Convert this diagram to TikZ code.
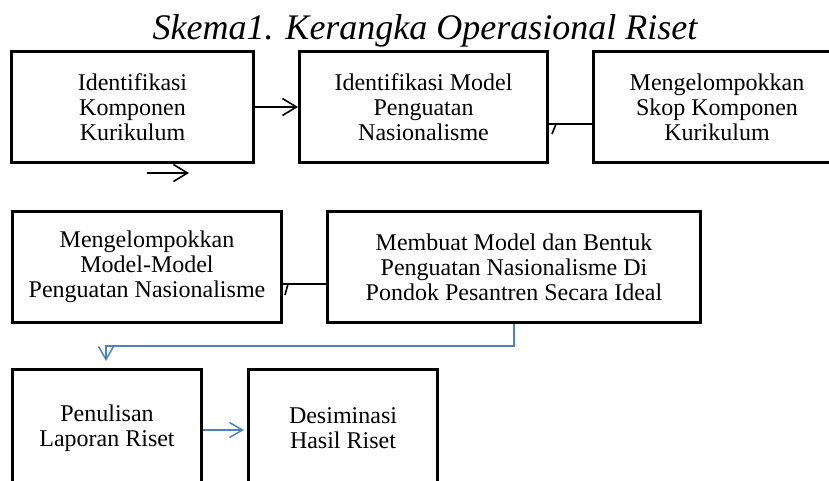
\documentclass[tikz,border=0pt]{standalone}
\usepackage{fontspec}
\setmainfont{Liberation Serif}
\usetikzlibrary{arrows.meta}
\definecolor{garisbiru}{RGB}{79,129,189}
\begin{document}
\begin{tikzpicture}[x=1pt,y=-1pt,
    kotak/.style={draw,line width=3pt,align=center,inner sep=0pt,
      minimum height=111pt,font=\fontsize{24}{25}\selectfont},
    panah/.style={line width=1.6pt,-{Straight Barb[length=14pt,width=17pt]}},
    garis/.style={line width=1.6pt},
    panahbiru/.style={garisbiru,line width=1.5pt,-{Straight Barb[length=13pt,width=15pt]}}]
      \useasboundingbox (0,0) rectangle (829,481);
      \node (judul) at (425,31) {\fontsize{36}{37}\selectfont\itshape Skema1. Kerangka Operasional Riset};
      % baris pertama
      \node[kotak,minimum width=242pt] (identkomp) at (132.5,107) {Identifikasi\\Komponen\\Kurikulum};
      \node[kotak,minimum width=248pt] (identmodel) at (423.5,107) {Identifikasi Model\\Penguatan\\Nasionalisme};
      \node[kotak,minimum width=248pt] (skopkomp) at (717,107) {Mengelompokkan\\Skop Komponen\\Kurikulum};
      % baris kedua
      \node[kotak,minimum width=269pt] (modelmodel) at (147,267) {Mengelompokkan\\Model-Model\\Penguatan Nasionalisme};
      \node[kotak,minimum width=373pt] (bentukideal) at (514,267) {Membuat Model dan Bentuk\\Penguatan Nasionalisme Di\\Pondok Pesantren Secara Ideal};
      % baris ketiga
      \node[kotak,minimum width=189pt,minimum height=118pt] (laporan) at (107,428) {Penulisan\\Laporan Riset};
      \node[kotak,minimum width=189pt,minimum height=118pt] (desiminasi) at (343,428) {Desiminasi\\Hasil Riset};
      \coordinate (bawahA) at (147,173);
      \coordinate (bawahB) at (189,173);
      \coordinate (ujung) at (106,361);
      \draw[panah] (identkomp.east) -- (identmodel.west);
      \draw[panah] (bawahA) -- (bawahB);
      \draw[garis] ([yshift=-17pt]identmodel.east) -- ([yshift=-17pt]skopkomp.west);
      \draw[garis] ([shift={(3pt,-27pt)}]identmodel.east) -- ([shift={(7pt,-17pt)}]identmodel.east);
      \draw[garis] ([yshift=-17pt]modelmodel.east) -- ([yshift=-17pt]bentukideal.west);
      \draw[garis] ([shift={(2pt,-28pt)}]modelmodel.east) -- ([shift={(5pt,-17pt)}]modelmodel.east);
      \draw[panahbiru] (bentukideal.south) -- ++(0,22) -| (ujung);
      \draw[panahbiru,shorten >=3pt] ([yshift=-2pt]laporan.east) -- ([yshift=-2pt]desiminasi.west);
    \end{tikzpicture}
\end{document}
